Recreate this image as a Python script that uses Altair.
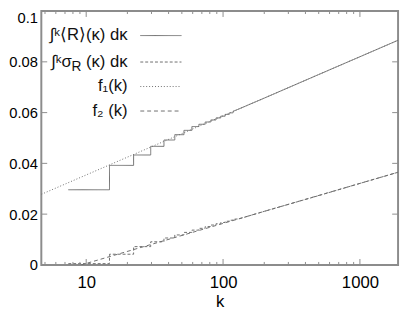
import altair as alt
import pandas as pd

# ---- data ----
k_steps = [7.4, 14.8, 22.2, 29.6, 37.0, 44.4, 51.8, 59.2, 66.6, 74.0,
           81.4, 88.8, 96.2, 103.6, 111.0, 118.4]
upper_levels = [0.0296, 0.0392, 0.0433, 0.0467, 0.0492, 0.0513, 0.0530, 0.0545,
                0.0554, 0.0563, 0.0571, 0.0579, 0.0586, 0.0593, 0.0599, 0.0605]
lower_levels = [0.0005, 0.0042, 0.0072, 0.0091, 0.0106, 0.0118, 0.0128, 0.0137,
                0.0144, 0.0151, 0.0157, 0.0162, 0.0167, 0.0172, 0.0176, 0.0180]
k_tail = [130, 200, 500, 1000, 1900]
upper_tail = [0.0614, 0.0657, 0.0750, 0.0820, 0.0885]
lower_tail = [0.0181, 0.0211, 0.0273, 0.0321, 0.0365]

f_k = [4.7, 1900]
f1_vals = [0.0278, 0.0885]
f2_vals = [-0.0046, 0.0365]

y_ticks = [0, 0.02, 0.04, 0.06, 0.08, 0.1]
x_major = [10, 100, 1000]
x_minor = [5, 6, 7, 8, 9, 20, 30, 40, 50, 60, 70, 80, 90,
           200, 300, 400, 500, 600, 700, 800, 900]

legend_labels = ["∫ᵏ⟨R⟩(κ) dκ", "∫ᵏσ", "R", "(κ) dκ", "f₁(k)", "f₂ (k)"]

W, H = 364, 259
LINE = "#6e6e6e"
FRAME = "#8c8c8c"
FONT = "Arial"


def step_table(levels, tail):
    ks, vs = [], []
    prev = None
    for kk, lv in zip(k_steps, levels):
        if prev is not None:
            ks.append(kk)
            vs.append(prev)
        ks.append(kk)
        vs.append(lv)
        prev = lv
    ks += k_tail
    vs += tail
    return pd.DataFrame({"k": ks, "v": vs, "i": list(range(len(ks)))})


xs = alt.Scale(type="log", domain=[4.7, 1900], nice=False)
ys = alt.Scale(domain=[0, 0.1], nice=False, zero=False)

x_axis = alt.Axis(values=x_major, format="~g", ticks=False, domain=False, grid=False,
                  labelFontSize=17, labelFont=FONT, labelColor="#000", labelPadding=10,
                  title="k", titleFontSize=17, titleFont=FONT, titleFontWeight="normal",
                  titleColor="#000", titlePadding=3)
y_axis = alt.Axis(values=y_ticks, format="~g", ticks=False, domain=False, grid=False,
                  labelFontSize=15, labelFont=FONT, labelColor="#000", labelPadding=4,
                  labelBaseline={"condition": {"test": "datum.value >= 0.099", "value": "top"},
                                 "value": "middle"},
                  title="")

X = lambda: alt.X("k:Q", scale=xs, axis=x_axis, title="k")
Y = lambda: alt.Y("v:Q", scale=ys, axis=y_axis, title="")


def curve(df, dash):
    m = alt.Chart(df).mark_line(color=LINE, strokeWidth=1, clip=True,
                                strokeDash=dash if dash else [1, 0])
    return m.encode(x=X(), y=Y(), order="i:Q")


upper_df = step_table(upper_levels, upper_tail)
lower_df = step_table(lower_levels, lower_tail)
f1_df = pd.DataFrame({"k": f_k, "v": f1_vals, "i": [0, 1]})
f2_df = pd.DataFrame({"k": f_k, "v": f2_vals, "i": [0, 1]})

layers = [
    curve(upper_df, None),
    curve(lower_df, [3, 2]),
    curve(f1_df, [1, 2]),
    curve(f2_df, [4, 3]),
]

# inward ticks on all four sides
yt = pd.DataFrame({"v": y_ticks})
for x1, x2 in [(0, 6), (W - 6, W)]:
    layers.append(alt.Chart(yt).mark_rule(color=FRAME, strokeWidth=1).encode(
        y=Y(), x=alt.value(x1), x2=alt.value(x2)))
xmaj = pd.DataFrame({"k": x_major})
xmin = pd.DataFrame({"k": x_minor})
for df, ln in [(xmaj, 6), (xmin, 3)]:
    for y1, y2 in [(H, H - ln), (0, ln)]:
        layers.append(alt.Chart(df).mark_rule(color=FRAME, strokeWidth=1).encode(
            x=X(), y=alt.value(y1), y2=alt.value(y2)))


# manual legend (labels left, samples right)
def label(text, x, y, size=17, align="left"):
    return alt.Chart(pd.DataFrame({"t": [text]})).mark_text(
        align=align, baseline="middle", fontSize=size, font=FONT, color="#111"
    ).encode(text="t:N", x=alt.value(x), y=alt.value(y))


rows_y = [25, 52, 77, 102]
layers.append(label(legend_labels[0], 88, rows_y[0], align="right"))
layers.append(label(legend_labels[1], 31, rows_y[1], align="right"))
layers.append(label(legend_labels[2], 41, rows_y[1] + 5, size=14, align="right"))
layers.append(label(legend_labels[3], 88, rows_y[1], align="right"))
layers.append(label(legend_labels[4], 88, rows_y[2], align="right"))
layers.append(label(legend_labels[5], 88, rows_y[3], align="right"))

dashes = [None, [3, 2], [1, 2], [4, 3]]
for yy, d in zip(rows_y, dashes):
    layers.append(alt.Chart(pd.DataFrame({"t": [0]})).mark_rule(
        color=LINE, strokeWidth=1, strokeDash=d if d else [1, 0]
    ).encode(x=alt.value(101), x2=alt.value(143), y=alt.value(yy)))

chart = alt.layer(*layers).properties(
    width=W, height=H,
    padding={"left": 34, "top": 0, "right": 3, "bottom": 48},
    autosize=alt.AutoSizeParams(type="none"),
).configure_view(stroke=FRAME, strokeWidth=2)

chart.save("out.html", embed_options={"renderer": "svg", "actions": False})
